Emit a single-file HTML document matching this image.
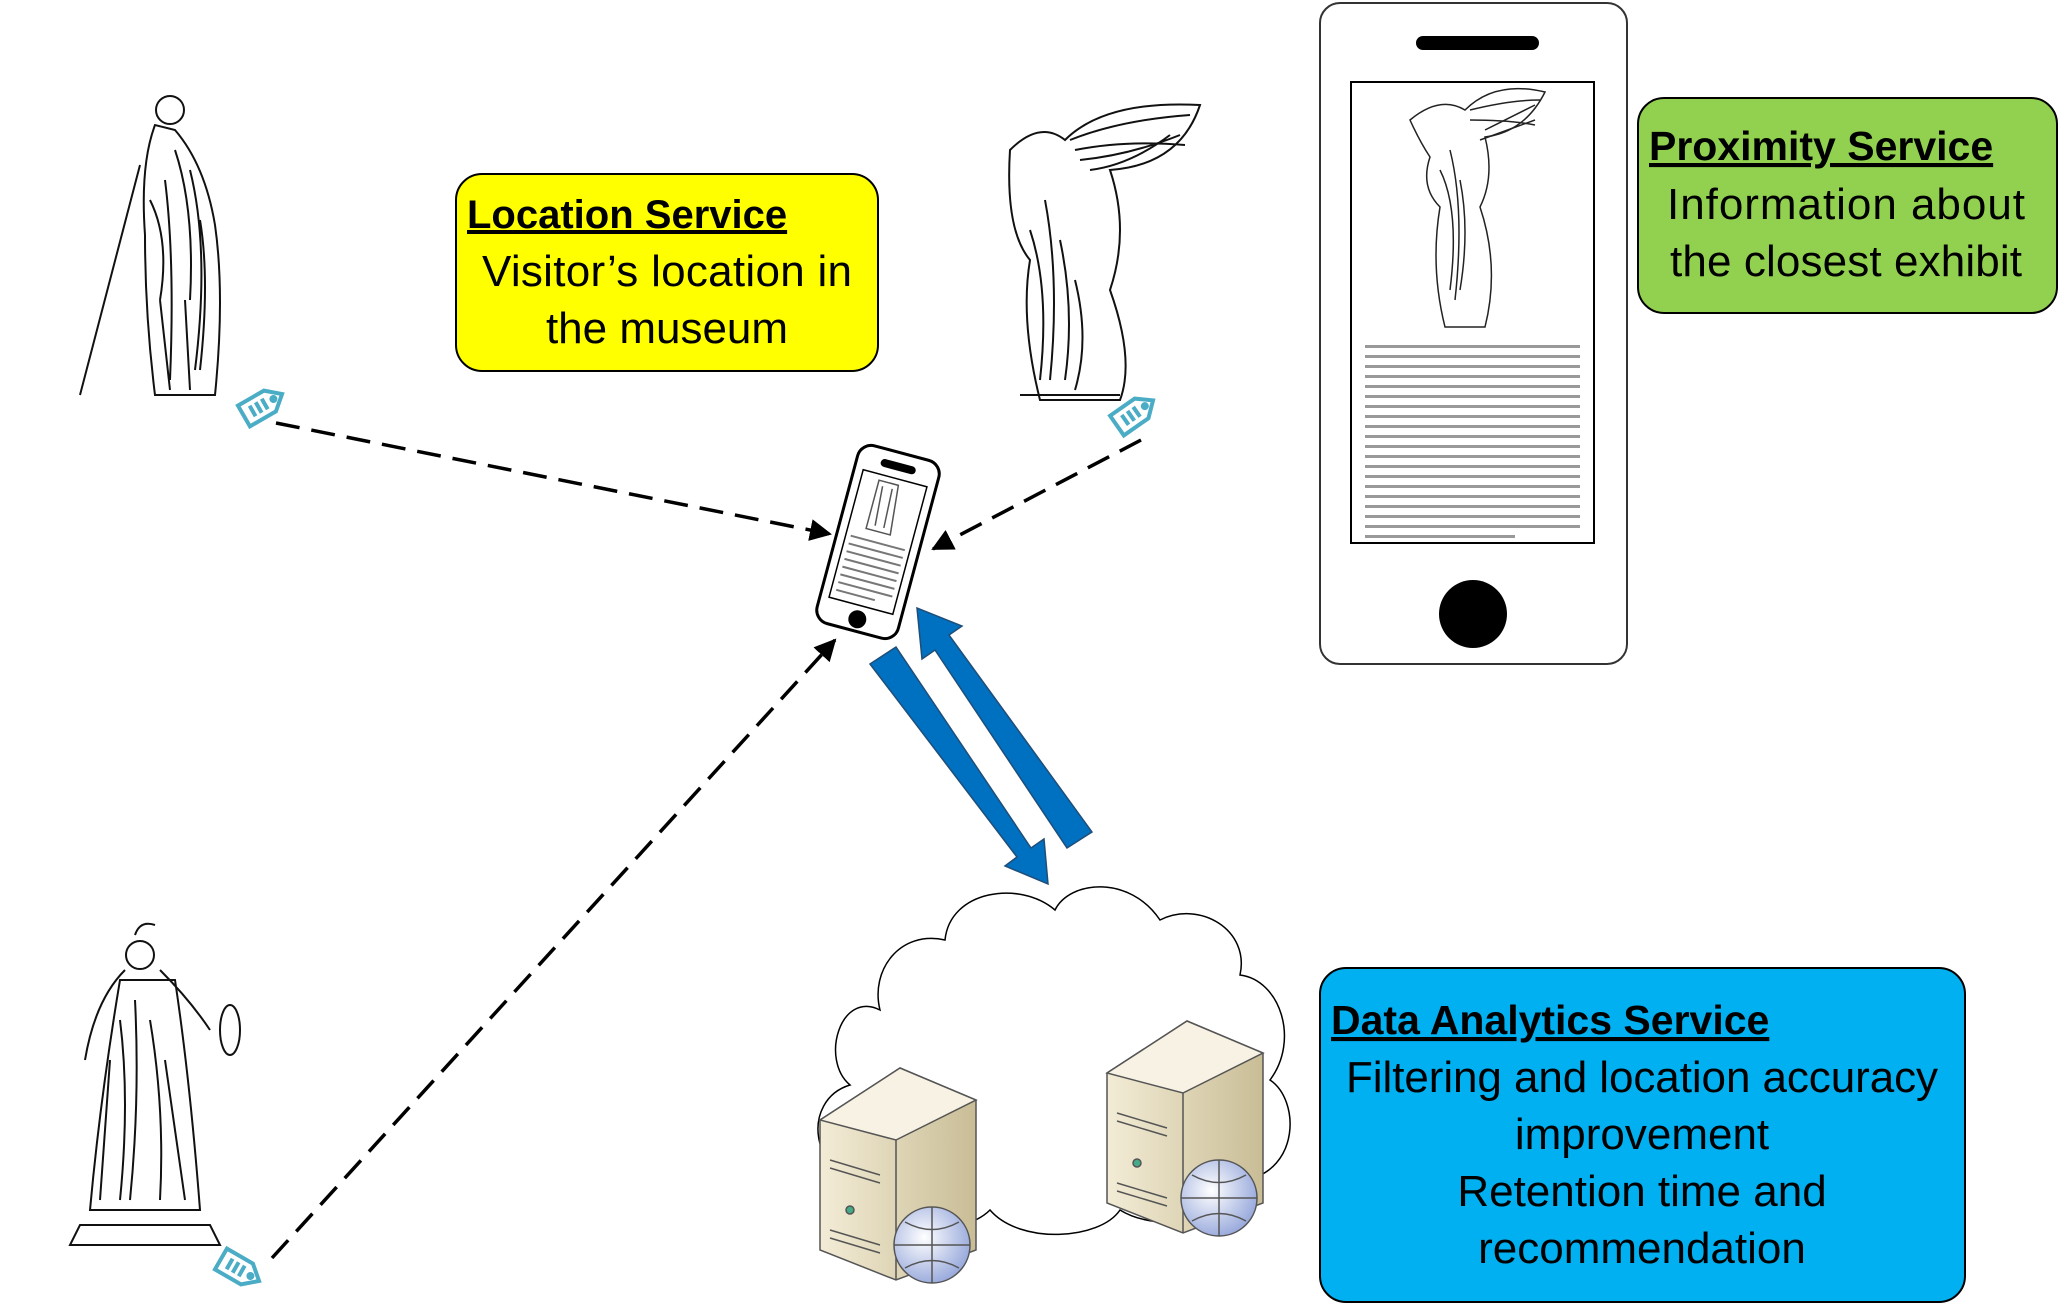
<!DOCTYPE html>
<html><head><meta charset="utf-8"><style>
html,body{margin:0;padding:0;background:#fff;}
svg{display:block;}
text{font-family:"Liberation Sans",sans-serif;}
</style></head><body>
<svg width="2062" height="1304" viewBox="0 0 2062 1304" xmlns="http://www.w3.org/2000/svg">
<defs>
<marker id="ah2" markerWidth="24" markerHeight="22" refX="20" refY="11" orient="auto" markerUnits="userSpaceOnUse">
<path d="M0,0 L22,11 L0,22 z" fill="#000"/></marker>
<linearGradient id="srv" x1="0" x2="1"><stop offset="0" stop-color="#f3ecd6"/><stop offset="1" stop-color="#c9bd96"/></linearGradient>
<radialGradient id="glb" cx="0.4" cy="0.4" r="0.7"><stop offset="0" stop-color="#fff"/><stop offset="1" stop-color="#8da0d8"/></radialGradient>
</defs>

<!-- Location Service box -->
<rect x="456" y="174" width="422" height="197" rx="26" fill="#ffff00" stroke="#000" stroke-width="2"/>
<text x="467" y="228" font-size="40" font-weight="bold" text-decoration="underline">Location Service</text>
<text x="667" y="286" font-size="44" text-anchor="middle" textLength="370">Visitor’s location in</text>
<text x="667" y="343" font-size="44" text-anchor="middle">the museum</text>

<!-- Proximity box -->
<rect x="1638" y="98" width="419" height="215" rx="26" fill="#92d050" stroke="#000" stroke-width="2"/>
<text x="1649" y="160" font-size="41" font-weight="bold" text-decoration="underline">Proximity Service</text>
<text x="1846" y="219" font-size="44" text-anchor="middle" textLength="358">Information about</text>
<text x="1846" y="276" font-size="44" text-anchor="middle" textLength="352">the closest exhibit</text>

<!-- Data Analytics box -->
<rect x="1320" y="968" width="645" height="334" rx="26" fill="#00b0f0" stroke="#000" stroke-width="2"/>
<text x="1331" y="1034" font-size="41" font-weight="bold" text-decoration="underline">Data Analytics Service</text>
<text x="1642" y="1092" font-size="44" text-anchor="middle" textLength="592">Filtering and location accuracy</text>
<text x="1642" y="1149" font-size="44" text-anchor="middle">improvement</text>
<text x="1642" y="1206" font-size="44" text-anchor="middle">Retention time and</text>
<text x="1642" y="1263" font-size="44" text-anchor="middle">recommendation</text>

<!-- Big phone -->
<rect x="1320" y="3" width="307" height="661" rx="20" fill="#fff" stroke="#333" stroke-width="2"/>
<rect x="1416" y="36" width="123" height="14" rx="7" fill="#000"/>
<rect x="1351" y="82" width="243" height="461" fill="#fff" stroke="#000" stroke-width="2"/>
<circle cx="1473" cy="614" r="34" fill="#000"/>
<g stroke="#222" fill="none" stroke-width="1.5">
<path d="M1410,120 q30,-25 55,-10 q30,-30 80,-18 q-20,40 -60,45 q10,40 -5,70 q20,60 5,120 l-40,0 q-15,-60 -5,-120 q-20,-20 -10,-50 q-10,-15 -20,-37z"/>
<path d="M1470,110 q40,-10 70,-10 M1470,120 q40,0 65,5 M1440,170 q20,40 10,120 M1460,180 q10,50 0,110 M1450,150 q15,60 5,150 M1485,130 l50,-25 M1480,140 l55,-20"/>
</g>
<g fill="#999">
<rect x="1365" y="345" width="215" height="3"/><rect x="1365" y="355" width="215" height="3"/><rect x="1365" y="365" width="215" height="3"/><rect x="1365" y="375" width="215" height="3"/><rect x="1365" y="385" width="215" height="3"/><rect x="1365" y="395" width="215" height="3"/><rect x="1365" y="405" width="215" height="3"/><rect x="1365" y="415" width="215" height="3"/><rect x="1365" y="425" width="215" height="3"/><rect x="1365" y="435" width="215" height="3"/><rect x="1365" y="445" width="215" height="3"/><rect x="1365" y="455" width="215" height="3"/><rect x="1365" y="465" width="215" height="3"/><rect x="1365" y="475" width="215" height="3"/><rect x="1365" y="485" width="215" height="3"/><rect x="1365" y="495" width="215" height="3"/><rect x="1365" y="505" width="215" height="3"/><rect x="1365" y="515" width="215" height="3"/><rect x="1365" y="525" width="215" height="3"/><rect x="1365" y="535" width="150" height="3"/>
</g>

<!-- Small phone -->
<g transform="translate(878,542) rotate(15)">
<rect x="-42" y="-92" width="84" height="184" rx="14" fill="#fff" stroke="#000" stroke-width="3"/>
<rect x="-18" y="-82" width="36" height="8" rx="4" fill="#000"/>
<rect x="-33" y="-66" width="66" height="132" fill="#fff" stroke="#000" stroke-width="1.5"/>
<circle cx="0" cy="80" r="9" fill="#000"/>
<path d="M-15,-60 l20,0 l5,50 l-25,0z M-10,-55 l3,40 M0,-55 l2,40" fill="none" stroke="#555" stroke-width="1.5"/>
<g fill="#777"><rect x="-28" y="0" width="56" height="2"/><rect x="-28" y="8" width="56" height="2"/><rect x="-28" y="16" width="56" height="2"/><rect x="-28" y="24" width="56" height="2"/><rect x="-28" y="32" width="56" height="2"/><rect x="-28" y="40" width="56" height="2"/><rect x="-28" y="48" width="56" height="2"/><rect x="-28" y="56" width="40" height="2"/></g>
</g>

<!-- dashed connectors -->
<g stroke="#000" stroke-width="3.5" stroke-dasharray="24,12" fill="none">
<line x1="276" y1="423" x2="830" y2="534" marker-end="url(#ah2)"/>
<line x1="1141" y1="440" x2="933" y2="549" marker-end="url(#ah2)"/>
<line x1="272" y1="1258" x2="835" y2="640" marker-end="url(#ah2)"/>
</g>

<!-- Blue arrows -->
<g fill="#0070c0" stroke="#1f4e79" stroke-width="1.5">
<path d="M870,664 L896,647 L1031,848 L1044,839 L1048,884 L1005,866 L1017,857 Z"/>
<path d="M1092,832 L1067,848 L935,650 L922,659 L917,608 L962,626 L949,635 Z"/>
</g>

<!-- Cloud -->
<path d="M880,1010 C840,990 820,1060 850,1085 C800,1100 810,1180 870,1180 C880,1230 960,1240 990,1210 C1020,1245 1100,1240 1120,1210 C1160,1235 1240,1220 1245,1180 C1300,1170 1300,1100 1270,1080 C1300,1040 1280,980 1240,975 C1250,930 1200,900 1160,920 C1130,875 1070,880 1055,910 C1020,880 950,890 945,940 C900,930 870,970 880,1010 Z" fill="#fff" stroke="#000" stroke-width="1.5"/>

<!-- servers -->
<g stroke="#555" stroke-width="1.5">
<path d="M820,1120 L900,1068 L976,1100 L976,1250 L896,1280 L820,1250 Z" fill="url(#srv)"/>
<path d="M820,1120 L900,1068 L976,1100 L896,1140 Z" fill="#f7f2e3"/>
<line x1="896" y1="1140" x2="896" y2="1280"/>
<path d="M830,1160 l50,15 M830,1168 l50,15 M830,1230 l50,15 M830,1238 l50,15" fill="none"/>
<circle cx="850" cy="1210" r="4" fill="#4a8"/>
<circle cx="932" cy="1245" r="38" fill="url(#glb)"/>
<path d="M894,1245 h76 M932,1207 v76 M905,1222 q27,15 54,0 M905,1268 q27,-15 54,0" fill="none"/>
<path d="M1107,1073 L1187,1021 L1263,1053 L1263,1203 L1183,1233 L1107,1203 Z" fill="url(#srv)"/>
<path d="M1107,1073 L1187,1021 L1263,1053 L1183,1093 Z" fill="#f7f2e3"/>
<line x1="1183" y1="1093" x2="1183" y2="1233"/>
<path d="M1117,1113 l50,15 M1117,1121 l50,15 M1117,1183 l50,15 M1117,1191 l50,15" fill="none"/>
<circle cx="1137" cy="1163" r="4" fill="#4a8"/>
<circle cx="1219" cy="1198" r="38" fill="url(#glb)"/>
<path d="M1181,1198 h76 M1219,1160 v76 M1192,1175 q27,15 54,0 M1192,1221 q27,-15 54,0" fill="none"/>
</g>

<!-- statues (sketchy outlines) -->
<g stroke="#111" fill="none" stroke-width="2">
<circle cx="170" cy="110" r="14"/>
<path d="M155,125 q-15,40 -10,110 q0,80 10,160 l60,0 q10,-100 0,-170 q-10,-60 -40,-95z"/>
<path d="M140,165 l-60,230 M150,200 q20,40 10,100 M175,150 q20,60 15,150 M190,170 q20,80 5,200 M165,180 q10,80 5,200 M200,220 q10,60 0,150 M160,300 l10,90 M185,300 l5,90"/>
<path d="M1010,150 q30,-30 55,-10 q40,-40 135,-35 q-20,60 -90,65 q20,60 0,120 q25,70 10,110 l-80,0 q-20,-80 -10,-140 q-25,-30 -20,-110z"/>
<path d="M1070,140 q50,-20 120,-25 M1075,150 q50,-10 110,-5 M1080,160 q50,-5 100,-25 M1090,170 q40,-5 80,-35 M1030,230 q20,60 10,150 M1060,240 q15,70 5,140 M1045,200 q15,80 5,180 M1075,280 q15,60 0,110 M1020,395 l100,0"/>
<circle cx="140" cy="955" r="14"/>
<path d="M135,935 q5,-15 20,-10"/>
<path d="M125,970 q-30,30 -40,90 M160,970 q30,30 50,60 M120,980 q-20,120 -30,230 l110,0 q-10,-130 -25,-230z"/>
<ellipse cx="230" cy="1030" rx="10" ry="25"/>
<path d="M80,1225 l130,0 l10,20 l-150,0z M120,1020 q10,80 0,180 M150,1020 q15,90 10,180 M135,1000 q5,100 -5,200 M110,1060 q-5,70 -10,140 M165,1060 q10,70 20,140"/>
</g>

<!-- tags -->
<g fill="#fff" stroke="#4bacc6" stroke-width="4">
<g transform="translate(263,405) rotate(-30)"><path d="M-22,-12 h30 l14,12 l-14,12 h-30 z"/><path d="M-12,-6 v12 M-5,-6 v12 M2,-6 v12" /><circle cx="12" cy="0" r="2"/></g>
<g transform="translate(1135,413) rotate(-35)"><path d="M-22,-12 h30 l14,12 l-14,12 h-30 z"/><path d="M-12,-6 v12 M-5,-6 v12 M2,-6 v12" /><circle cx="12" cy="0" r="2"/></g>
<g transform="translate(240,1270) rotate(30)"><path d="M-22,-12 h30 l14,12 l-14,12 h-30 z"/><path d="M-12,-6 v12 M-5,-6 v12 M2,-6 v12" /><circle cx="12" cy="0" r="2"/></g>
</g>
</svg>
</body></html>
